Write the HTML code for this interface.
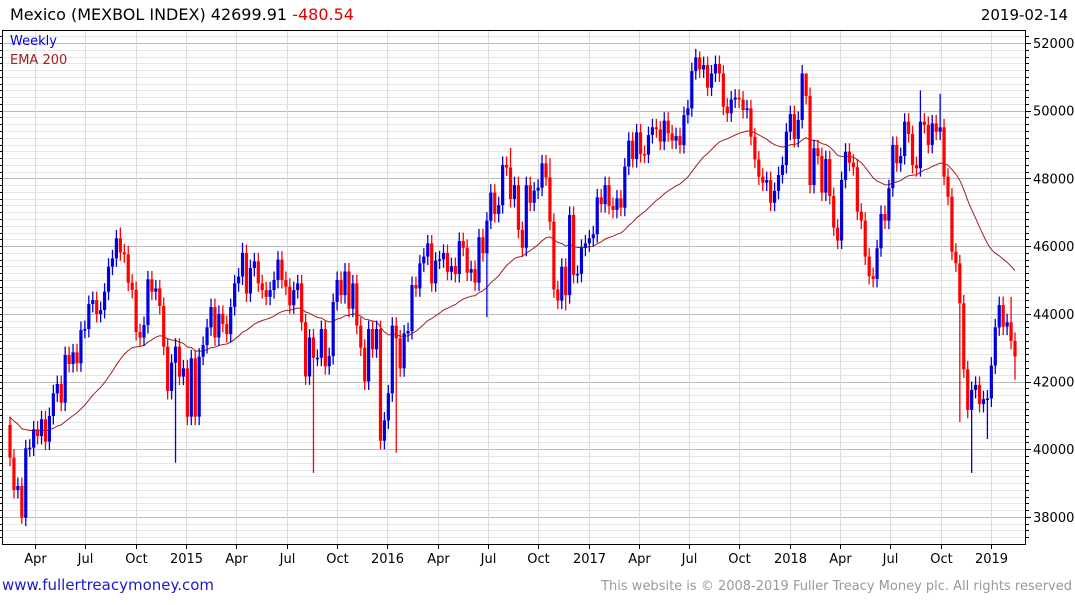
<!DOCTYPE html>
<html><head><meta charset="utf-8">
<style>
html,body{margin:0;padding:0;background:#fff;}
body{width:1075px;height:600px;overflow:hidden;font-family:"Liberation Sans","DejaVu Sans",sans-serif;}
svg text{font-family:"DejaVu Sans","Liberation Sans",sans-serif;}
</style></head>
<body>
<svg id="chart" width="1075" height="600" viewBox="0 0 1075 600" xmlns="http://www.w3.org/2000/svg">
  <g id="grid"></g>
  <g id="ema"></g>
  <g id="candles"></g>
  <rect x="2.5" y="30.5" width="1023" height="514" fill="none" stroke="#000" stroke-width="1"/>
  <g id="axes"></g>
  <text x="10" y="20" font-size="16" fill="#000">Mexico (MEXBOL INDEX) 42699.91 <tspan fill="#e00000">-480.54</tspan></text>
  <text x="1068" y="20" font-size="15" fill="#000" text-anchor="end">2019-02-14</text>
  <text x="10" y="45" font-size="13" fill="#0000dd">Weekly</text>
  <text x="10" y="64" font-size="13" fill="#a02020">EMA 200</text>
  <text x="2" y="590" font-size="15" fill="#1a1acc">www.fullertreacymoney.com</text>
  <text x="1072" y="590" font-size="13" fill="#999" text-anchor="end">This website is © 2008-2019 Fuller Treacy Money plc. All rights reserved</text>
</svg>
<script>
const closes = [
39750,38795,38913,37977,40026,40046,40587,40390,40883,40223,40981,41650,41926,41375,42783,42517,42862,42537,43521,43550,
44290,44408,43994,44112,44654,45392,45639,46230,45816,45757,44920,44703,43462,43295,43669,45018,44654,44750,44230,43030,
41720,42556,43029,42143,42389,40961,42685,40961,42734,43078,43600,
44200,43300,44000,43700,43400,44200,44900,45100,45800,44600,45350,45550,44900,44700,44500,44700,45000,45600,45000,44800,
44250,44700,44900,43750,42150,43300,42700,42700,43550,42450,42750,44350,45000,44550,45250,44150,44900,43650,43000,42000,
43550,42950,43550,40250,40850,41650,43650,
43275,42390,43420,43490,44850,44750,45490,45690,46080,44900,45570,45610,45800,45240,45410,45175,46150,45950,45215,45320,
44920,46260,45790,46750,47580,46950,47210,48400,48320,47390,47800,46480,45950,47800,47280,47640,47725,48445,48030,46720,
44720,44390,45390,44550,46920,45150,45180,45950,46080,46230,46350,47440,47240,47800,
47185,47070,47410,47135,48350,49115,48570,49360,48720,48700,49280,49510,49450,49085,49705,49330,49115,49250,48985,49870,
50070,51170,51575,51220,51350,50680,51100,51380,51100,50120,49920,50330,50385,50330,50020,50070,49230,48560,48050,47875,
47950,47280,47630,48100,48395,49380,49900,49165,49725,51100,50435,
47805,48890,48660,47580,48570,47480,46545,46160,47955,48790,48465,48330,47020,46750,45690,45115,45030,45935,46950,46750,
47710,48990,48445,48660,49676,49310,48395,48300,49676,49580,48990,49627,49380,49510,48050,47460,45835,45490,44310,42360,
41160,41750,41900,41335,41480,41500,42470,43600,44260,43620,43750,43200,42735
];
const firstOpen = 40715;
// notable long wicks (candle index -> price extreme)
const lowSpikes = {42:39600, 77:39300, 98:39900, 121:43900, 141:44100, 244:39300, 241:40800, 248:40300, 3:37800, 255:42050};
const highSpikes = {28:46550, 59:46100, 127:48900, 137:48600, 175:51750, 202:51100, 231:50600, 236:50500, 254:44500};
const defaultWick = 250;
const yTicks = [38000,40000,42000,44000,46000,48000,50000,52000];
const xTickLabels = ["Apr","Jul","Oct","2015","Apr","Jul","Oct","2016","Apr","Jul","Oct","2017","Apr","Jul","Oct","2018","Apr","Jul","Oct","2019"];
const xTickWeeks = [7,20,33,46,59,72,85,98,111,124,137,150,163,176,189,202,215,228,241,254];

const NS="http://www.w3.org/2000/svg";
const X0=10, X1=1015, N=closes.length;
const step=(X1-X0)/(N-1);
function xs(i){return X0+i*step;}
function ys(p){return 43-(p-52000)*67.7/2000;}
function mk(tag,attrs,parent){const e=document.createElementNS(NS,tag);for(const k in attrs)e.setAttribute(k,attrs[k]);parent.appendChild(e);return e;}

const grid=document.getElementById('grid');
for(let p=37400;p<=52400;p+=200){
  const y=Math.round(ys(p))+0.5; if(y<31||y>544)continue;
  const major=p%2000===0;
  const l=mk('line',{x1:3,x2:1025,y1:y,y2:y,stroke:major?'#bbbbbb':'#e6e6e6','stroke-width':1},grid);
  
  
  const t=mk('line',{x1:1026,x2:major?1031:1029,y1:y,y2:y,stroke:'#000'},grid);
  
  
  const t2=mk('line',{x1:0,x2:3,y1:y,y2:y,stroke:'#000'},grid);
  
  
}
const axes=document.getElementById('axes');
xTickWeeks.forEach((w,k)=>{
  const x=Math.round(X0+(w-0.5)*3.87)+0.5;
  const g=mk('line',{x1:x,x2:x,y1:31,y2:544,stroke:'#dddddd'},grid);
  
  
  const t=mk('line',{x1:x,x2:x,y1:544,y2:549,stroke:'#000'},axes);
  
  
  const tx=mk('text',{x:x,y:563,'font-size':13,'text-anchor':'middle',fill:'#000'},axes);
  tx.textContent=xTickLabels[k];
  
  
});
yTicks.forEach(p=>{
  const tx=mk('text',{x:1033,y:ys(p)+5,'font-size':13,fill:'#000'},axes);
  tx.textContent=String(p);
  
  
});

// EMA (200-day ~ 40 weeks)
const alpha=2/41; let ema=41000; const pts=[];
closes.forEach((c,i)=>{ema=ema+alpha*(c-ema);pts.push(xs(i).toFixed(1)+','+ys(ema).toFixed(1));});
const emaLine=mk('polyline',{points:pts.join(' '),fill:'none',stroke:'#a02020','stroke-width':1},document.getElementById('ema'));



const cg=document.getElementById('candles');
closes.forEach((c,i)=>{
  const o=i===0?firstOpen:closes[i-1];
  const up=c>=o; const col=up?'#0000dd':'#ff0000';
  const hi=highSpikes[i]!==undefined?highSpikes[i]:Math.max(o,c)+defaultWick;
  const lo=lowSpikes[i]!==undefined?lowSpikes[i]:Math.min(o,c)-defaultWick;
  const x=xs(i);
  const w=mk('line',{x1:x,x2:x,y1:ys(hi),y2:ys(lo),stroke:col,'stroke-width':1.3},cg);
  
  
  const top=ys(Math.max(o,c)), bot=ys(Math.min(o,c));
  const b=mk('rect',{x:x-1.6,y:top,width:3.2,height:Math.max(1.5,bot-top),fill:col},cg);
  
  
});
</script>
</body></html>
